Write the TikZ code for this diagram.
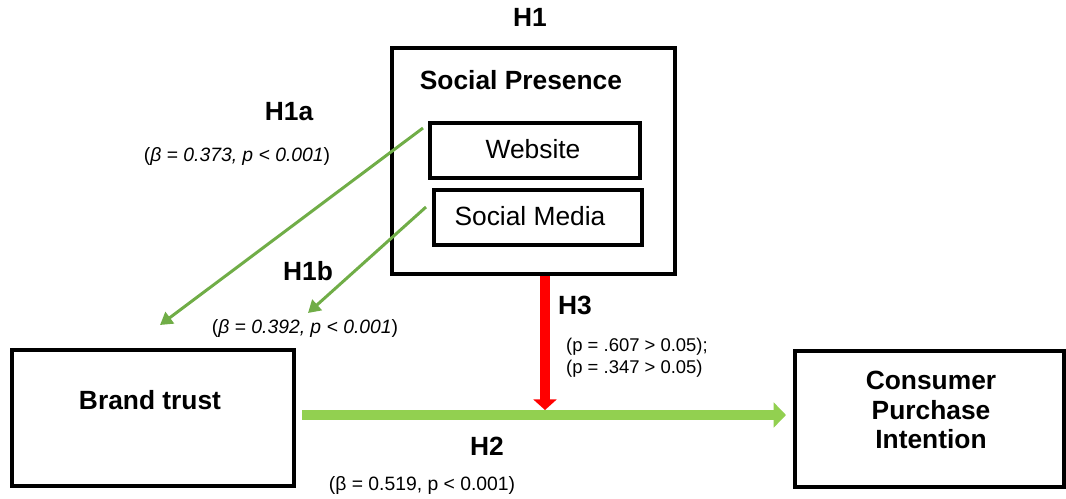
\documentclass[tikz,border=0pt]{standalone}
\usepackage{fontspec}
\setmainfont{Liberation Sans}
\usetikzlibrary{arrows.meta}
\definecolor{lgreen}{HTML}{70AD47}
\definecolor{bgreen}{HTML}{92D050}
\definecolor{bred}{HTML}{FF0000}
\begin{document}
\begin{tikzpicture}[x=0.02cm,y=-0.02cm,
  box/.style={draw=black,line width=2.3pt,inner sep=0pt,anchor=north west},
  bold/.style={font=\bfseries\fontsize{15}{17}\selectfont},
  small/.style={font=\fontsize{11}{13}\selectfont},
  thinarrow/.style={draw=lgreen,line width=1.7pt,-{Triangle[length=7pt,width=8pt]}},
  mainarrow/.style={draw=bgreen,line width=5.5pt,-{Triangle[length=7pt,width=14pt]}},
  redarrow/.style={draw=bred,line width=5.5pt,-{Triangle[length=6pt,width=13pt]}}
]
\useasboundingbox (0,0) rectangle (1066,498);
% boxes
\node[box,minimum width=283*0.02cm,minimum height=226*0.02cm] (sp) at (390,46) {};
\node[bold] (sptitle) at (521,80) {Social Presence};
\node[box,minimum width=210*0.02cm,minimum height=55*0.02cm] (web) at (428,121) {};
\node[font=\fontsize{15}{17}\selectfont] (webt) at (533,149) {Website};
\node[box,minimum width=208*0.02cm,minimum height=55*0.02cm] (sm) at (432,188) {};
\node[font=\fontsize{15}{17}\selectfont] (smt) at (530,216) {Social Media};
\node[box,minimum width=282*0.02cm,minimum height=136*0.02cm] (bt) at (10,348) {};
\node[bold] (btt) at (150,400) {Brand trust};
\node[box,minimum width=269*0.02cm,minimum height=136*0.02cm] (cpi) at (793,349) {};
\node[align=center,font=\bfseries\fontsize{15}{17}\selectfont] (cpit) at (931,410) {Consumer\\Purchase\\Intention};
% labels
\node[bold] (h1) at (530,17) {H1};
\node[bold] (h1a) at (289,112) {H1a};
\node[small] (h1al) at (237,156) {(\textit{β = 0.373, p < 0.001})};
\node[bold] (h1b) at (308,271) {H1b};
\node[small] (h1bl) at (305,328) {(\textit{β = 0.392, p < 0.001})};
\node[bold] (h3) at (575,305) {H3};
\node[align=left,anchor=west,font=\fontsize{10.5}{12.5}\selectfont] (h3l) at (560,358) {(p = .607 > 0.05);\\(p = .347 > 0.05)};
\node[bold] (h2) at (487,446) {H2};
\node[small] (h2l) at (422,485) {(β = 0.519, p < 0.001)};
% connectors
\coordinate (a1s) at (423,128);
\coordinate (a1e) at (160,325);
\coordinate (a2s) at (426,207);
\coordinate (a2e) at (308,313);
\coordinate (m) at (545,410);
\coordinate (ms) at (302,415);
\coordinate (me) at (786,415);
\draw[thinarrow] (a1s) -- (a1e);
\draw[thinarrow] (a2s) -- (a2e);
\draw[mainarrow] (ms) -- (me);
\draw[redarrow] (sp.south -| m) -- (m);
\end{tikzpicture}
\end{document}
